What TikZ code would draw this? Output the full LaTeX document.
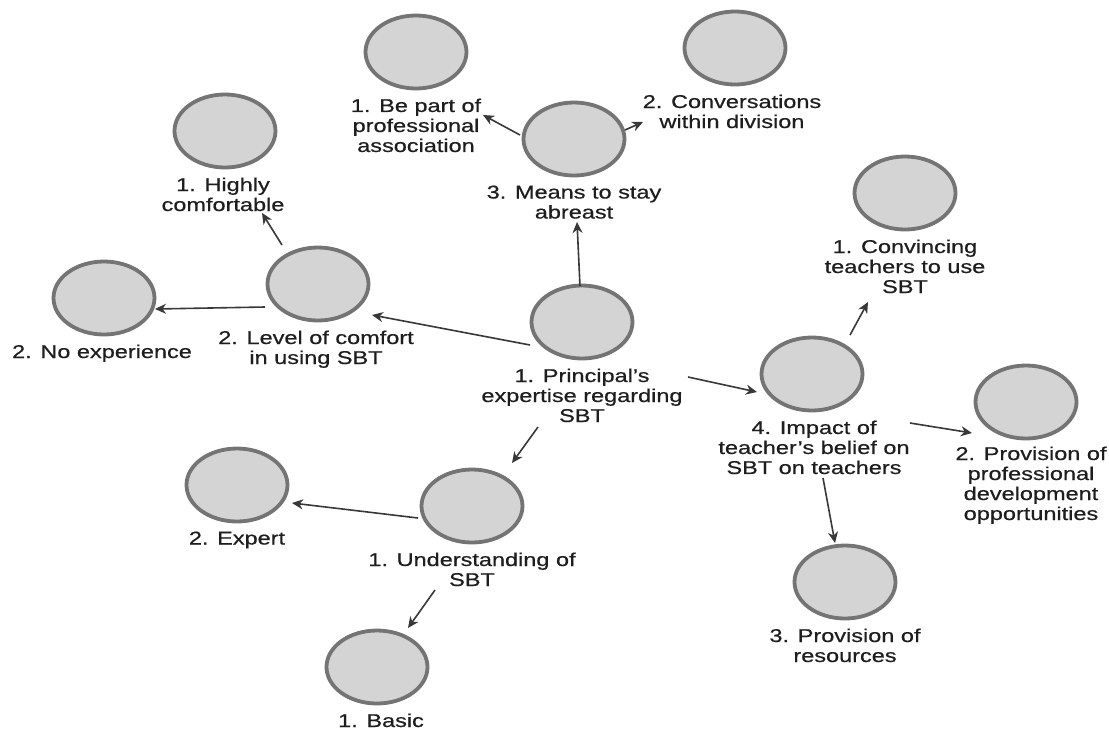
\documentclass[tikz,border=0pt]{standalone}
\usepackage{fontspec}
\setmainfont{Liberation Sans}[FakeStretch=1.27,FakeBold=0.6]
\usetikzlibrary{arrows.meta,shapes.geometric}
\definecolor{cfill}{HTML}{D4D4D4}
\definecolor{cline}{HTML}{747474}
\definecolor{arrc}{HTML}{383838}
\definecolor{txt}{HTML}{1E1E1E}
\begin{document}
\begin{tikzpicture}[x=1pt,y=-1pt,
  concept/.style={ellipse, draw=cline, fill=cfill, line width=3.8pt,
    minimum width=101pt, minimum height=73pt, inner sep=0pt},
  lab/.style={align=center, font=\fontsize{18.5}{20}\selectfont, text=txt,
    inner sep=0pt, anchor=north},
  arr/.style={draw=arrc, line width=1.6pt,
    -{Stealth[length=11pt,width=10pt,inset=3.5pt]}}]
\useasboundingbox (0,0) rectangle (1109,729);
% concepts
\node[concept] (P) at (582,322) {};
\node[concept] (M) at (574,139) {};
\node[concept] (B) at (416,52) {};
\node[concept] (C) at (735,48) {};
\node[concept] (H) at (225,131) {};
\node[concept] (L) at (318,284) {};
\node[concept] (N) at (104,298) {};
\node[concept] (I) at (812,374) {};
\node[concept] (V) at (905,193) {};
\node[concept] (R) at (1026,402) {};
\node[concept] (S) at (845,582) {};
\node[concept] (U) at (472,506) {};
\node[concept] (E) at (237,485) {};
\node[concept] (A) at (377,667) {};
% labels
\node[lab] (Pl) at ([yshift=-8pt]P.south) {1. Principal's\\expertise regarding\\SBT};
\node[lab] (Ml) at ([yshift=-8pt]M.south) {3. Means to stay\\abreast};
\node[lab] (Bl) at ([yshift=-8pt]B.south) {1. Be part of\\professional\\association};
\node[lab] (Cl) at ([xshift=-3pt,yshift=-8pt]C.south) {2. Conversations\\within division};
\node[lab] (Hl) at ([xshift=-2pt,yshift=-8pt]H.south) {1. Highly\\comfortable};
\node[lab] (Ll) at ([xshift=-2pt,yshift=-8pt]L.south) {2. Level of comfort\\in using SBT};
\node[lab] (Nl) at ([xshift=-2pt,yshift=-8pt]N.south) {2. No experience};
\node[lab] (Il) at ([xshift=2pt,yshift=-8pt]I.south) {4. Impact of\\teacher's belief on\\SBT on teachers};
\node[lab] (Vl) at ([yshift=-8pt]V.south) {1. Convincing\\teachers to use\\SBT};
\node[lab] (Rl) at ([xshift=5pt,yshift=-6pt]R.south) {2. Provision of\\professional\\development\\opportunities};
\node[lab] (Sl) at ([yshift=-8pt]S.south) {3. Provision of\\resources};
\node[lab] (Ul) at ([yshift=-8pt]U.south) {1. Understanding of\\SBT};
\node[lab] (El) at ([yshift=-8pt]E.south) {2. Expert};
\node[lab] (Al) at ([xshift=4pt,yshift=-8pt]A.south) {1. Basic};
% connectors
\draw[arr] ([shift={(-2,-36)}]P.center) -- ([shift={(3,83)}]M.center);
\draw[arr] ([shift={(-54,-4)}]M.center) -- ([shift={(67,63)}]B.center);
\draw[arr] ([shift={(51,-9)}]M.center) -- ([shift={(-92,74)}]C.center);
\draw[arr] ([shift={(-52,23)}]P.center) -- ([shift={(54,31)}]L.center);
\draw[arr] ([shift={(-53,23)}]L.center) -- ([shift={(51,11)}]N.center);
\draw[arr] ([shift={(-36,-39)}]L.center) -- ([shift={(37,82)}]H.center);
\draw[arr] ([shift={(-44,105)}]P.center) -- ([shift={(40,-43)}]U.center);
\draw[arr] ([shift={(-54,12)}]U.center) -- ([shift={(55,18)}]E.center);
\draw[arr] ([shift={(-37,84)}]U.center) -- ([shift={(31,-39)}]A.center);
\draw[arr] ([shift={(106,55)}]P.center) -- ([shift={(-55,18)}]I.center);
\draw[arr] ([shift={(38,-39)}]I.center) -- ([shift={(-37,109)}]V.center);
\draw[arr] ([shift={(98,49)}]I.center) -- ([shift={(-54,31)}]R.center);
\draw[arr] ([shift={(11,104)}]I.center) -- ([shift={(-10,-39)}]S.center);
\end{tikzpicture}
\end{document}
